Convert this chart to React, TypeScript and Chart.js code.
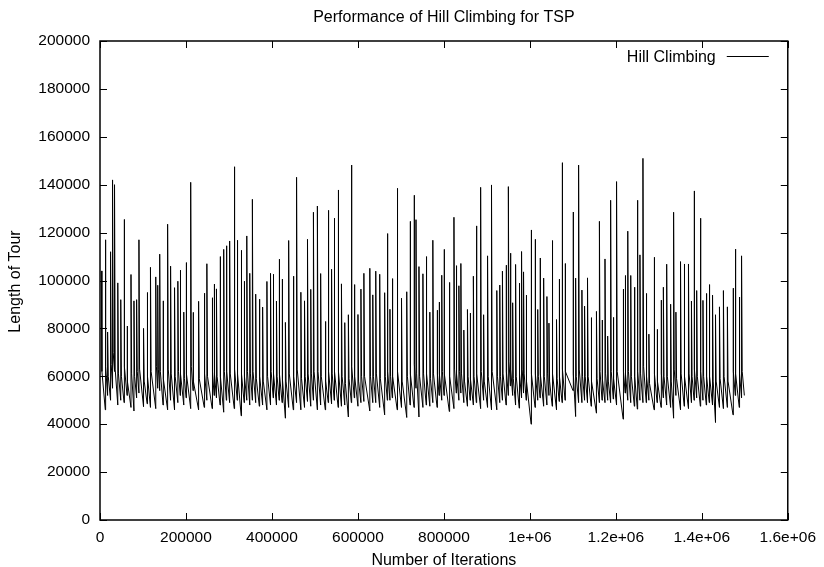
import React, { useEffect, useRef } from "react";
import { Chart, registerables } from "chart.js";

Chart.register(...registerables);

const FONT = "'Liberation Sans', Arial, Helvetica, sans-serif";

const titleText = "Performance of Hill Climbing for TSP";
const xAxisLabel = "Number of Iterations";
const yAxisLabel = "Length of Tour";
const seriesName = "Hill Climbing";

const xTickLabels = ["0", "200000", "400000", "600000", "800000", "1e+06", "1.2e+06", "1.4e+06", "1.6e+06"];
const yTickLabels = ["0", "20000", "40000", "60000", "80000", "100000", "120000", "140000", "160000", "180000", "200000"];

// iteration at which each restart (spike) happens
const restartIters = [
  3000, 12300, 17700, 24600, 29200, 33800, 41400, 48300, 56000, 62900,
  72100, 79000, 85200, 90600, 101300, 109700, 117400, 129700, 134300, 138900,
  146600, 157300, 164200, 173400, 181100, 186500, 194900, 200300, 211000, 216400,
  229400, 242500, 248600, 260900, 265500, 270900, 279300, 287800, 293900, 301600,
  312300,
  319200, 328400, 335300, 341500, 348400, 354500, 362200, 370600, 378300, 388300,
  396700, 402900, 410500, 416700, 423600, 431300, 438900, 449700, 457300, 467300,
  475800, 482700, 490300, 496500, 505700, 513300, 524100, 531000, 538700, 544800,
  554000, 561700, 569400, 577800, 584700, 591600, 600100, 607000, 613900, 627700,
  634600,
  641500, 650700, 662200, 668400, 674500, 679900, 691400, 701400, 713600, 721300,
  730500, 735100, 742000, 751200, 758900, 767300, 774300, 784200, 788800, 795000,
  800300, 812600, 823400, 828700, 834900, 839500, 846400, 854800, 861000, 868600,
  875500, 885500, 892400, 901600, 910800, 923100, 930000, 936200, 944600, 950000,
  954600, 960000,
  966800, 975200, 980700, 985300, 991400, 1002900, 1012100, 1018300, 1023600, 1032100,
  1039700, 1044400, 1052000, 1062000, 1068100, 1075000, 1081900, 1100400, 1106500, 1113400,
  1121100, 1127300, 1134100, 1142600, 1154900, 1161800, 1167900, 1174800, 1181000, 1187900,
  1194000, 1201700, 1217000, 1221700, 1227800, 1234700, 1243100, 1250000, 1256100, 1263100,
  1270700, 1276900,
  1289100, 1296000, 1305200, 1310600, 1318300, 1327500, 1334400, 1339800, 1350500, 1359000,
  1369000, 1375900, 1382000, 1388100, 1396600, 1402700, 1410400, 1417300, 1425000, 1431900,
  1441100, 1450300, 1459500, 1472600, 1477900, 1487100, 1492500,
];

// tour length right after each restart
const peakLengths = [
  104000, 117000, 78500, 112000, 142000, 140000, 99000, 92000, 125500, 81000,
  102500, 91500, 92000, 117000, 80000, 95000, 105500, 101500, 98000, 111000,
  91500, 123500, 106000, 97000, 99700, 104300, 86800, 107500, 141000, 86700,
  91300, 94700, 107000, 92800, 98500, 96500, 110000, 113000, 114500, 116500,
  147500,
  116800, 112600, 99700, 118600, 103000, 133900, 94300, 92200, 88900, 99600,
  103000, 102600, 91400, 108900, 100600, 82500, 116700, 101800, 143100, 95100,
  91500, 117200, 96300, 128500, 131100, 102900, 82900, 129300, 104700, 126000,
  137800, 98600, 82400, 85700, 148200, 98300, 85800, 96400, 103000, 105100,
  94000,
  103900, 102600, 94900, 119600, 88000, 100800, 138500, 92600, 95300, 124700,
  135600, 125400, 105800, 102800, 110000, 86800, 116800, 87600, 91000, 102200,
  113000, 99200, 126400, 106200, 97800, 107100, 79300, 87900, 86400, 101800,
  122800, 138900, 85700, 110300, 139900, 95800, 98100, 103900, 106400, 139200,
  111400, 90700,
  106700, 98900, 112100, 103600, 93900, 121100, 117200, 87900, 109400, 101000,
  93300, 82200, 116700, 83700, 100600, 149200, 107100, 128600, 101000, 148200,
  96000, 89300, 101100, 84500, 87100, 124700, 83500, 109000, 76800, 133500,
  84600, 141300, 96400, 102100, 120600, 102100, 97200, 133500, 110700, 151000,
  94600, 77600,
  109700, 79600, 91800, 97200, 106800, 90100, 128500, 86800, 107900, 106900,
  106900, 91400, 137400, 95800, 126000, 91700, 94600, 98300, 93900, 85700,
  89000, 95800, 89000, 96800, 113100, 93100, 110300,
];

// tour length about 1500 iterations after each restart (end of the steep drop)
const kneeLengths = [
  62000, 64000, 60000, 65000, 70000, 63000, 61000, 60000, 64000, 58000,
  61000, 60000, 62000, 63000, 58000, 60000, 62000, 64000, 63000, 62000,
  59000, 63000, 61000, 60000, 62000, 61000, 59000, 61000, 64000, 58000,
  59000, 61000, 60000, 62000, 61000, 60000, 60000, 62000, 62000, 61000,
  63000,
  61000, 61000, 60000, 62000, 61000, 62000, 59000, 60000, 58000, 60000,
  62000, 61000, 60000, 61000, 59000, 58000, 61000, 60000, 63000, 59000,
  60000, 61000, 61000, 62000, 62000, 60000, 58000, 62000, 61000, 62000,
  62000, 60000, 57000, 59000, 64000, 60000, 58000, 60000, 60000, 60000,
  60000,
  61000, 59000, 60000, 62000, 60000, 60000, 62000, 58000, 60000, 61000,
  65000, 61000, 60000, 61000, 61000, 59000, 61000, 61000, 61000, 62000,
  61000, 60000, 63000, 61000, 62000, 61000, 58000, 60000, 59000, 60000,
  61000, 62000, 58000, 60000, 62000, 60000, 60000, 61000, 62000, 66000,
  63000, 59000,
  60000, 61000, 63000, 61000, 58000, 61000, 61000, 60000, 61000, 60000,
  61000, 58000, 61000, 59000, 60000, 63000, 62000, 61000, 60000, 63000,
  60000, 60000, 60000, 58000, 59000, 62000, 59000, 61000, 58000, 62000,
  59000, 62000, 62000, 61000, 62000, 60000, 60000, 62000, 61000, 64000,
  60000, 57000,
  61000, 58000, 61000, 60000, 60000, 58000, 63000, 59000, 61000, 60000,
  61000, 60000, 63000, 60000, 62000, 60000, 60000, 60000, 58000, 58000,
  59000, 60000, 58000, 62000, 61000, 61000, 62000,
];

// tour length reached just before the next restart
const troughLengths = [
  46000, 52000, 50000, 55000, 62000, 48000, 50000, 49000, 52000, 47000,
  45500, 51000, 53000, 47300, 48500, 47000, 46500, 55000, 54000, 48000,
  46000, 50000, 46000, 49000, 52000, 48000, 51000, 46500, 54000, 46000,
  47000, 50000, 46500, 52000, 51000, 48000, 45000, 50000, 49000, 46500,
  50000,
  43500, 49000, 50000, 48000, 50000, 49000, 47500, 48000, 46000, 48000,
  51000, 48000, 50000, 49000, 42500, 47000, 46000, 49000, 46000, 47000,
  49500, 47500, 50000, 46000, 48000, 46000, 49000, 48500, 50000, 47000,
  47500, 48000, 43000, 49000, 51000, 47500, 49000, 49500, 45500, 49000,
  49000,
  47000, 43900, 50000, 50000, 51000, 46000, 47000, 42800, 48000, 47000,
  55000, 43000, 47000, 48000, 47500, 49000, 47000, 52000, 50000, 52000,
  45300, 46500, 53000, 50000, 53000, 49000, 47500, 50000, 48000, 49000,
  46500, 50000, 47000, 46000, 46000, 49000, 50000, 48000, 52000, 56000,
  52000, 48000,
  46700, 51000, 53000, 50000, 40000, 47000, 50000, 51000, 47500, 48000,
  52000, 47500, 46000, 49500, 49000, 50000, 54000, 43200, 49000, 49000,
  50000, 49000, 47500, 44600, 49000, 50000, 49000, 50000, 49000, 50500,
  48000, 42100, 53000, 50000, 49000, 47500, 46300, 50000, 49000, 49000,
  50000, 46000,
  49000, 47000, 51000, 48000, 47000, 42500, 52000, 46000, 47500, 46500,
  49000, 50000, 51000, 47500, 50000, 48000, 49000, 48000, 40700, 47000,
  46500, 47000, 43900, 52000, 47000, 51000, 52000,
];

const kneeDelay = 1500;
const lastIteration = 1499000;
const xMin = 0;
const xMax = 1600000;
const xStep = 200000;
const yMin = 0;
const yMax = 200000;
const yStep = 20000;

const decorPlugin = {
  id: "gnuplotDecor",
  afterDatasetsDraw(chart: any) {
    const { ctx, chartArea: a, scales } = chart;
    const xs = scales.x;
    const ys = scales.y;
    const seg = (x1: number, y1: number, x2: number, y2: number) => {
      ctx.beginPath();
      ctx.moveTo(x1, y1);
      ctx.lineTo(x2, y2);
      ctx.stroke();
    };
    ctx.save();
    ctx.strokeStyle = "#000";
    ctx.lineWidth = 1;
    const T = 7;
    ys.ticks.forEach((t: any) => {
      const y = Math.round(ys.getPixelForValue(t.value)) + 0.5;
      seg(a.left, y, a.left + T, y);
      seg(a.right - T, y, a.right, y);
    });
    xs.ticks.forEach((t: any) => {
      const x = Math.round(xs.getPixelForValue(t.value)) + 0.5;
      seg(x, a.bottom, x, a.bottom - T);
      seg(x, a.top, x, a.top + T);
    });
    ctx.lineWidth = 1.5;
    ctx.strokeRect(a.left, a.top, a.right - a.left, a.bottom - a.top);

    ctx.fillStyle = "#000";
    ctx.font = `16px ${FONT}`;
    ctx.textBaseline = "alphabetic";
    // legend (inside, top right)
    ctx.textAlign = "right";
    ctx.fillText(seriesName, a.right - 72, a.top + 20.5);
    ctx.lineWidth = 1;
    seg(a.right - 61, a.top + 15.5, a.right - 19, a.top + 15.5);
    // title and axis labels
    const cx = (a.left + a.right) / 2;
    ctx.textAlign = "center";
    ctx.fillText(titleText, cx, 21.5);
    ctx.fillText(xAxisLabel, cx, 565);
    ctx.translate(20, (a.top + a.bottom) / 2 + 1);
    ctx.rotate(-Math.PI / 2);
    ctx.fillText(yAxisLabel, 0, 0);
    ctx.restore();
  },
};

export default function App() {
  const ref = useRef<HTMLCanvasElement>(null);
  useEffect(() => {
    const canvas = ref.current;
    if (!canvas) return;
    const n = Math.min(restartIters.length, peakLengths.length, kneeLengths.length, troughLengths.length);
    const pts: { x: number; y: number }[] = [];
    for (let i = 0; i < n; i++) {
      pts.push({ x: restartIters[i], y: peakLengths[i] });
      pts.push({ x: restartIters[i] + kneeDelay, y: kneeLengths[i] });
      const nextX = i + 1 < n ? restartIters[i + 1] : lastIteration;
      pts.push({ x: nextX, y: troughLengths[i] });
    }
    const tickFont = { family: FONT, size: 15.5 };
    const chart = new Chart(canvas, {
      type: "line",
      data: {
        datasets: [
          {
            label: seriesName,
            data: pts,
            borderColor: "#000",
            borderWidth: 1,
            pointRadius: 0,
            tension: 0,
            fill: false,
          },
        ],
      },
      options: {
        responsive: false,
        animation: false,
        devicePixelRatio: 1,
        events: [],
        layout: { padding: { left: 0, right: 29, top: 41, bottom: 0 } },
        plugins: {
          legend: { display: false },
          title: { display: false },
          tooltip: { enabled: false },
        },
        scales: {
          x: {
            type: "linear",
            min: xMin,
            max: xMax,
            afterFit: (s: any) => {
              s.height = 47;
            },
            grid: { display: false, drawTicks: false },
            border: { display: false },
            ticks: {
              stepSize: xStep,
              padding: 8,
              maxRotation: 0,
              autoSkip: false,
              color: "#000",
              font: tickFont,
              callback: (_v: any, i: number) => xTickLabels[i],
            },
          },
          y: {
            type: "linear",
            min: yMin,
            max: yMax,
            afterFit: (s: any) => {
              s.width = 100;
            },
            grid: { display: false, drawTicks: false },
            border: { display: false },
            ticks: {
              stepSize: yStep,
              padding: 10,
              color: "#000",
              font: tickFont,
              callback: (_v: any, i: number) => yTickLabels[i],
            },
          },
        },
      },
      plugins: [decorPlugin],
    } as any);
    return () => chart.destroy();
  }, []);
  return (
    <div style={{ position: "fixed", left: 0, top: 0, width: 824, height: 567, background: "#fff" }}>
      <canvas ref={ref} width={824} height={567} style={{ display: "block", width: 824, height: 567 }} />
    </div>
  );
}
